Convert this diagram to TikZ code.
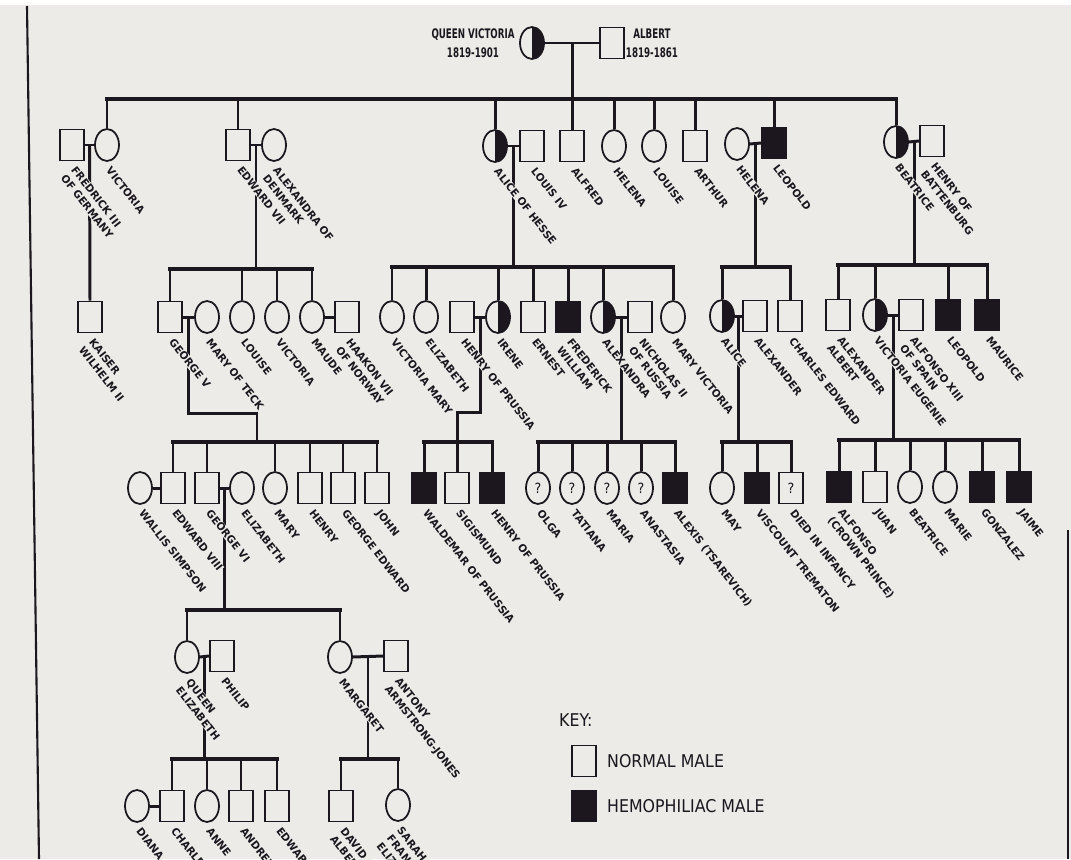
\documentclass[tikz,border=0pt]{standalone}
\usepackage{fontspec}
\usetikzlibrary{calc,shapes.geometric}
\newfontfamily\pedfont{DejaVu Sans}[FakeStretch=0.98]
\newfontfamily\headfont{DejaVu Sans}[FakeStretch=0.66]
\newfontfamily\keyfont{DejaVu Sans}[FakeStretch=0.9]
\definecolor{ink}{RGB}{28,22,30}
\definecolor{paper}{RGB}{236,235,231}

\tikzset{
  person/.style={draw=ink,line width=1pt,inner sep=0pt,minimum width=0.48cm,minimum height=0.62cm},
  male/.style={person,rectangle},
  female/.style={person,ellipse,minimum height=0.64cm},
  hemo/.style={male,fill=ink},
  carrier/.style={female,path picture={\fill[ink] (path picture bounding box.north) rectangle (path picture bounding box.south east);}},
  qmark/.style={text=ink,font=\keyfont\fontsize{8}{8}\selectfont},
  link/.style={ink,line width=1.7pt},
  sibbar/.style={ink,line width=2.3pt,line cap=rect},
  nametag/.style={rotate=-52,anchor=north west,align=left,inner sep=0.3pt,fill=paper,text=ink,
    font=\pedfont\bfseries\fontsize{6}{7.4}\selectfont},
  headtag/.style={align=center,text=ink,inner sep=0pt,font=\headfont\bfseries\fontsize{7.5}{10.8}\selectfont},
  keytag/.style={anchor=west,text=ink,font=\keyfont\fontsize{10}{12}\selectfont},
}

\begin{document}
\begin{tikzpicture}[x=0.02cm,y=-0.02cm]
\fill[paper] (0,0) rectangle (1071,859);
\useasboundingbox (0,0) rectangle (1071,859);
\fill[white] (0,0) rectangle (1071,5);
\draw[ink,line width=1.2pt] (27,6) -- (39,859);
\draw[ink,line width=1.2pt] (1068,530) -- (1068,859);

% generation I
\node[carrier] (qv) at (532,43) {};
\node[male] (albert) at (612,43) {};
\node[headtag] (qvtxt) at (473,43) {QUEEN VICTORIA\\1819-1901};
\node[headtag] (abtxt) at (652,43) {ALBERT\\1819-1861};

% generation II
\node[male] (fred) at (72,145) {};
\node[female] (vic) at (107,145) {};
\node[male] (ed7) at (238,145) {};
\node[female] (alexd) at (274,145) {};
\node[carrier] (alice) at (495,146) {};
\node[male] (louis) at (532,146) {};
\node[male] (alfred) at (572,146) {};
\node[female] (helena) at (614,146) {};
\node[female] (louise) at (654,146) {};
\node[male] (arthur) at (695,146) {};
\node[female] (helenaw) at (737,144) {};
\node[hemo] (leopold) at (774,143) {};
\node[carrier] (beatrice) at (896,142) {};
\node[male] (henryb) at (932,141) {};

% generation III
\node[male] (wilhelm) at (90,317) {};
\node[male] (george5) at (170,317) {};
\node[female] (marytk) at (207,317) {};
\node[female] (louise3) at (242,317) {};
\node[female] (victoria3) at (277,317) {};
\node[female] (maude) at (312,317) {};
\node[male] (haakon) at (347,317) {};
\node[female] (vicmary) at (392,317) {};
\node[female] (elizh) at (426,317) {};
\node[male] (henryp) at (462,317) {};
\node[carrier] (irene) at (498,317) {};
\node[male] (ernest) at (533,317) {};
\node[hemo] (fredw) at (568,317) {};
\node[carrier] (alexandra) at (603,317) {};
\node[male] (nicholas) at (640,317) {};
\node[female] (maryv) at (673,317) {};
\node[carrier] (alicea) at (722,316) {};
\node[male] (alexc) at (755,316) {};
\node[male] (charlese) at (790,316) {};
\node[male] (alexa) at (838,315) {};
\node[carrier] (viceug) at (875,315) {};
\node[male] (alfonso) at (911,315) {};
\node[hemo] (leopold3) at (948,315) {};
\node[hemo] (maurice) at (987,315) {};

% generation IV
\node[female] (wallis) at (140,488) {};
\node[male] (edward8) at (173,488) {};
\node[male] (george6) at (207,488) {};
\node[female] (elizbl) at (242,488) {};
\node[female] (mary4) at (275,488) {};
\node[male] (henry4) at (310,488) {};
\node[male] (georgee) at (343,488) {};
\node[male] (john) at (377,488) {};
\node[hemo] (waldemar) at (424,488) {};
\node[male] (sigismund) at (457,488) {};
\node[hemo] (henryp4) at (492,488) {};
\node[female,qmark] (olga) at (538,488) {?};
\node[female,qmark] (tatiana) at (572,488) {?};
\node[female,qmark] (maria) at (607,488) {?};
\node[female,qmark] (anastasia) at (641,488) {?};
\node[hemo] (alexis) at (675,488) {};
\node[female] (may) at (722,488) {};
\node[hemo] (trematon) at (757,488) {};
\node[male,qmark] (infant) at (791,488) {?};
\node[hemo] (alfonsocp) at (839,487) {};
\node[male] (juan) at (875,487) {};
\node[female] (beatrice4) at (910,487) {};
\node[female] (marie) at (945,487) {};
\node[hemo] (gonzalez) at (982,487) {};
\node[hemo] (jaime) at (1019,487) {};

% generation V
\node[female] (qe) at (187,657) {};
\node[male] (philip) at (222,656) {};
\node[female] (margaret) at (340,657) {};
\node[male] (antony) at (396,656) {};

% generation VI
\node[female] (diana) at (137,806) {};
\node[male] (charles) at (172,806) {};
\node[female] (anne) at (207,806) {};
\node[male] (andrew) at (241,806) {};
\node[male] (edward6) at (277,806) {};
\node[male] (david) at (341,806) {};
\node[female] (sarah) at (398,805) {};

% marriages
\foreach \a/\b in {qv/albert,fred/vic,ed7/alexd,alice/louis,helenaw/leopold,beatrice/henryb,
  george5/marytk,maude/haakon,henryp/irene,alexandra/nicholas,alicea/alexc,viceug/alfonso,
  wallis/edward8,george6/elizbl,qe/philip,margaret/antony,diana/charles}
  \draw[link] (\a.east) -- (\b.west);
\foreach \a/\b/\m in {qv/albert/dqa,fred/vic/dfv,ed7/alexd/dea,alice/louis/dal,helenaw/leopold/dhl,
  beatrice/henryb/dbh,george5/marytk/dgm,henryp/irene/dhi,alexandra/nicholas/dan,alicea/alexc/daa,
  viceug/alfonso/dva,george6/elizbl/dge,qe/philip/dqp,margaret/antony/dma}
  \coordinate (\m) at ($(\a.east)!.5!(\b.west)$);

% sibling bars
\coordinate (g2) at (0,99);
\coordinate (g3a) at (0,269);
\coordinate (g3b) at (0,267);
\coordinate (g3d) at (0,265);
\coordinate (g4) at (0,442);
\coordinate (g4e) at (0,440);
\coordinate (g5) at (0,610);
\coordinate (g6) at (0,759);
\coordinate (s1) at (257,413);
\coordinate (s2) at (457,412);

\draw[sibbar] (vic |- g2) -- (beatrice |- g2);
\draw[link] (dqa) -- (dqa |- alfred.north);
\foreach \c in {vic,ed7,alice,helena,louise,arthur,leopold,beatrice}
  \draw[link] (\c |- g2) -- (\c.north);

\draw[link] (dfv) -- (wilhelm.north);
\draw[sibbar] (george5 |- g3a) -- (maude |- g3a);
\draw[link] (dea) -- (dea |- g3a);
\foreach \c in {george5,louise3,victoria3,maude}
  \draw[link] (\c |- g3a) -- (\c.north);
\draw[sibbar] (vicmary |- g3b) -- (maryv |- g3b);
\draw[link] (dal) -- (dal |- g3b);
\foreach \c in {vicmary,elizh,irene,ernest,fredw,alexandra,maryv}
  \draw[link] (\c |- g3b) -- (\c.north);
\draw[sibbar] (alicea |- g3b) -- (charlese |- g3b);
\draw[link] (dhl) -- (dhl |- g3b);
\foreach \c in {alicea,charlese}
  \draw[link] (\c |- g3b) -- (\c.north);
\draw[sibbar] (alexa |- g3d) -- (maurice |- g3d);
\draw[link] (dbh) -- (dbh |- g3d);
\foreach \c in {alexa,viceug,leopold3,maurice}
  \draw[link] (\c |- g3d) -- (\c.north);

\draw[sibbar] (edward8 |- g4) -- (john |- g4);
\draw[link] (dgm) |- (s1) -- (s1 |- g4);
\foreach \c in {edward8,george6,mary4,henry4,georgee,john}
  \draw[link] (\c |- g4) -- (\c.north);
\draw[sibbar] (waldemar |- g4) -- (henryp4 |- g4);
\draw[link] (dhi) |- (s2) -- (s2 |- g4);
\foreach \c in {waldemar,sigismund,henryp4}
  \draw[link] (\c |- g4) -- (\c.north);
\draw[sibbar] (olga |- g4) -- (alexis |- g4);
\draw[link] (dan) -- (dan |- g4);
\foreach \c in {olga,tatiana,maria,anastasia,alexis}
  \draw[link] (\c |- g4) -- (\c.north);
\draw[sibbar] (may |- g4) -- (infant |- g4);
\draw[link] (daa) -- (daa |- g4);
\foreach \c in {may,trematon,infant}
  \draw[link] (\c |- g4) -- (\c.north);
\draw[sibbar] (alfonsocp |- g4e) -- (jaime |- g4e);
\draw[link] (dva) -- (dva |- g4e);
\foreach \c in {alfonsocp,juan,beatrice4,marie,gonzalez,jaime}
  \draw[link] (\c |- g4e) -- (\c.north);

\draw[sibbar] (qe |- g5) -- (margaret |- g5);
\draw[link] (dge) -- (dge |- g5);
\foreach \c in {qe,margaret}
  \draw[link] (\c |- g5) -- (\c.north);

\draw[sibbar] (charles |- g6) -- (edward6 |- g6);
\draw[link] (dqp) -- (dqp |- g6);
\foreach \c in {charles,anne,andrew,edward6}
  \draw[link] (\c |- g6) -- (\c.north);
\draw[sibbar] (david |- g6) -- (sarah |- g6);
\draw[link] (dma) -- (dma |- g6);
\foreach \c in {david,sarah}
  \draw[link] (\c |- g6) -- (\c.north);

% names
\foreach \p/\t in {fred/{FREDRICK III\\OF GERMANY},vic/VICTORIA,ed7/EDWARD VII,alexd/{ALEXANDRA OF\\DENMARK},
  alice/ALICE OF HESSE,louis/LOUIS IV,alfred/ALFRED,helena/HELENA,louise/LOUISE,arthur/ARTHUR,
  helenaw/HELENA,leopold/LEOPOLD,beatrice/BEATRICE,henryb/{HENRY OF\\BATTENBURG},
  wilhelm/{KAISER\\WILHELM II},george5/GEORGE V,marytk/MARY OF TECK,louise3/LOUISE,victoria3/VICTORIA,
  maude/MAUDE,haakon/{HAAKON VII\\OF NORWAY},vicmary/VICTORIA MARY,elizh/ELIZABETH,
  henryp/HENRY OF PRUSSIA,irene/IRENE,ernest/ERNEST,fredw/{FREDERICK\\WILLIAM},alexandra/ALEXANDRA,
  nicholas/{NICHOLAS II\\OF RUSSIA},maryv/MARY VICTORIA,alicea/ALICE,alexc/ALEXANDER,
  charlese/CHARLES EDWARD,alexa/{ALEXANDER\\ALBERT},viceug/VICTORIA EUGENIE,
  alfonso/{ALFONSO XIII\\OF SPAIN},leopold3/LEOPOLD,maurice/MAURICE,
  wallis/WALLIS SIMPSON,edward8/EDWARD VIII,george6/GEORGE VI,elizbl/ELIZABETH,mary4/MARY,
  henry4/HENRY,georgee/GEORGE EDWARD,john/JOHN,waldemar/WALDEMAR OF PRUSSIA,sigismund/SIGISMUND,
  henryp4/HENRY OF PRUSSIA,olga/OLGA,tatiana/TATIANA,maria/MARIA,anastasia/ANASTASIA,
  alexis/ALEXIS (TSAREVICH),may/MAY,trematon/VISCOUNT TREMATON,infant/DIED IN INFANCY,
  alfonsocp/{ALFONSO\\(CROWN PRINCE)},juan/JUAN,beatrice4/BEATRICE,marie/MARIE,
  gonzalez/GONZALEZ,jaime/JAIME,
  qe/{QUEEN\\ELIZABETH},philip/PHILIP,margaret/MARGARET,antony/{ANTONY\\ARMSTRONG-JONES},
  diana/DIANA,charles/CHARLES,anne/ANNE,andrew/ANDREW,edward6/EDWARD,david/{DAVID\\ALBERT},
  sarah/{SARAH\\FRANCES\\ELIZABETH}}
  \node[nametag] (t-\p) at ($(\p.south)+(5,3)$) {\t};

% key
\node[keytag] (keyhead) at (553,720) {KEY:};
\node[male] (keynorm) at (584,761) {};
\node[hemo] (keyhemo) at (584,806) {};
\node[keytag] (keynormtxt) at (601,761) {NORMAL MALE};
\node[keytag] (keyhemotxt) at (601,806) {HEMOPHILIAC MALE};
\end{tikzpicture}
\end{document}
